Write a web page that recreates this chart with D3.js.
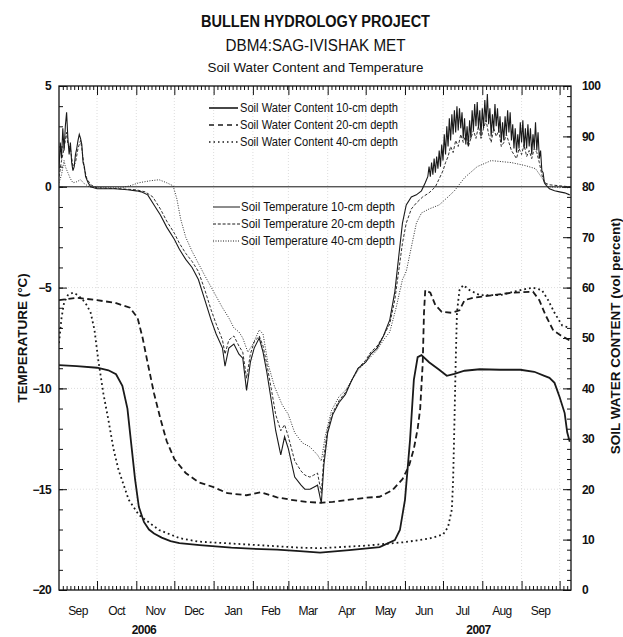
<!DOCTYPE html>
<html>
<head>
<meta charset="utf-8">
<script src="https://cdn.jsdelivr.net/npm/d3@7"></script>
<style>
  body { margin: 0; background: #fff; }
  text { font-family: "Liberation Sans", Arial, sans-serif; fill: #111; }
</style>
</head>
<body>
<svg id="chart" width="623" height="637"></svg>
<script>
// ---- data ----
const monthNames = ["Sep","Oct","Nov","Dec","Jan","Feb","Mar","Apr","May","Jun","Jul","Aug","Sep"];
const yearLabels = [["2006-11-07","2006"],["2007-07-29","2007"]];

// soil water content, vol percent (right axis)
const swc10 = [["2006-09-01",44.6],["2006-09-15",44.4],["2006-10-01",44.1],["2006-10-10",43.6],["2006-10-16",42.8],
  ["2006-10-21",40.5],["2006-10-25",36],["2006-10-28",29],["2006-10-31",22],["2006-11-03",16.5],["2006-11-07",13.5],
  ["2006-11-11",12.0],["2006-11-15",11.2],["2006-11-21",10.4],["2006-11-28",9.7],["2006-12-05",9.3],["2006-12-21",8.9],
  ["2007-01-15",8.4],["2007-01-30",8.2],["2007-02-20",8.0],["2007-03-10",7.7],["2007-03-26",7.4],["2007-04-18",7.9],
  ["2007-05-12",8.5],["2007-05-24",9.9],["2007-05-28",11.9],["2007-06-01",17.9],["2007-06-05",29.8],["2007-06-08",41.7],
  ["2007-06-11",46.2],["2007-06-14",46.6],["2007-06-20",45.2],["2007-06-28",43.7],["2007-07-04",42.5],["2007-07-10",42.9],
  ["2007-07-18",43.5],["2007-07-30",43.8],["2007-08-15",43.7],["2007-08-31",43.7],["2007-09-11",43.3],["2007-09-19",42.5],
  ["2007-09-23",42.1],["2007-09-27",41.1],["2007-10-01",38.3],["2007-10-05",35.1],["2007-10-07",31.3],["2007-10-09",29.4]];

const swc20 = [["2006-09-01",57.5],["2006-09-15",58],["2006-10-01",57.5],["2006-10-15",57],["2006-10-27",56],
  ["2006-11-02",54],["2006-11-06",50],["2006-11-10",45],["2006-11-15",39],["2006-11-20",34],["2006-11-25",29.5],
  ["2006-12-01",26],["2006-12-10",23.2],["2006-12-20",21.4],["2007-01-01",20.4],["2007-01-12",19.2],["2007-01-27",18.8],
  ["2007-02-07",19.4],["2007-02-20",18.4],["2007-03-03",17.9],["2007-03-15",17.5],["2007-03-26",17.3],["2007-04-05",17.5],
  ["2007-05-01",18.3],["2007-05-12",18.5],["2007-05-22",19.8],["2007-05-30",22],["2007-06-04",24.5],["2007-06-08",28],
  ["2007-06-11",32],["2007-06-13",36],["2007-06-15",45],["2007-06-16",55],["2007-06-17",59.5],["2007-06-21",59.0],
  ["2007-06-25",56.5],["2007-06-30",55.2],["2007-07-08",55],["2007-07-14",55.5],["2007-07-18",57.5],["2007-07-25",58.0],
  ["2007-08-10",58.5],["2007-08-25",59.0],["2007-09-10",59.2],["2007-09-15",57.5],["2007-09-20",54.5],["2007-09-26",51.5],
  ["2007-10-02",50.5],["2007-10-09",49.5]];

const swc40 = [["2006-09-01",49],["2006-09-03",54],["2006-09-05",57],["2006-09-08",58.5],["2006-09-12",59],
  ["2006-09-16",58.5],["2006-09-20",57.5],["2006-09-23",56.5],["2006-09-26",55],["2006-09-29",51.6],["2006-10-02",45.6],
  ["2006-10-06",39],["2006-10-10",33.7],["2006-10-14",28],["2006-10-18",23.8],["2006-10-26",17.9],["2006-11-03",14.9],
  ["2006-11-19",11.9],["2006-12-05",10.3],["2006-12-20",9.6],["2007-01-30",9.0],["2007-03-10",8.4],
  ["2007-03-26",8.3],["2007-05-01",8.8],["2007-06-01",9.5],["2007-06-20",10.2],["2007-07-01",11.0],["2007-07-05",12.5],
  ["2007-07-08",16],["2007-07-09",22],["2007-07-10",33],["2007-07-11",45],["2007-07-12",55],["2007-07-14",59.5],
  ["2007-07-17",60.5],["2007-07-22",59.5],["2007-07-30",58.5],["2007-08-15",58.5],["2007-08-31",59.5],["2007-09-10",60],
  ["2007-09-17",59.5],["2007-09-22",57.5],["2007-09-27",55],["2007-10-03",52.5],["2007-10-09",52]];

// soil temperature, deg C (left axis)
const t10 = [["2006-09-01",0.9],["2006-09-02",2.2],["2006-09-03",1.4],["2006-09-04",2.9],["2006-09-05",1.8],
  ["2006-09-06",3.0],["2006-09-07",3.7],["2006-09-08",2.4],["2006-09-09",1.6],["2006-09-10",2.2],["2006-09-11",1.2],
  ["2006-09-12",0.8],["2006-09-13",1.0],["2006-09-14",1.6],["2006-09-15",1.9],["2006-09-16",2.3],["2006-09-17",2.6],
  ["2006-09-18",2.4],["2006-09-19",2.1],["2006-09-20",1.2],["2006-09-21",1.0],["2006-09-22",0.5],["2006-09-24",0.2],
  ["2006-09-26",0.0],["2006-10-01",-0.1],["2006-10-15",-0.1],["2006-10-25",-0.15],["2006-11-01",-0.2],["2006-11-05",-0.25],
  ["2006-11-10",-0.4],["2006-11-15",-0.9],["2006-11-20",-1.4],["2006-11-25",-2.0],["2006-12-01",-2.6],["2006-12-05",-3.1],
  ["2006-12-10",-3.6],["2006-12-15",-4.0],["2006-12-20",-4.6],["2006-12-25",-5.6],["2006-12-30",-6.6],["2007-01-03",-7.3],
  ["2007-01-08",-8.0],["2007-01-10",-8.9],["2007-01-13",-8.0],["2007-01-17",-7.8],["2007-01-21",-8.3],["2007-01-24",-8.5],
  ["2007-01-27",-10.1],["2007-01-30",-8.7],["2007-02-02",-8.0],["2007-02-06",-7.5],["2007-02-09",-8.2],["2007-02-12",-9.2],
  ["2007-02-16",-10.8],["2007-02-19",-12.1],["2007-02-23",-13.3],["2007-02-26",-12.4],["2007-03-01",-13.0],["2007-03-06",-14.4],
  ["2007-03-11",-14.8],["2007-03-14",-15.0],["2007-03-18",-15.0],["2007-03-21",-14.9],["2007-03-24",-14.8],["2007-03-27",-15.7],
  ["2007-03-29",-13.8],["2007-04-01",-12.2],["2007-04-05",-11.3],["2007-04-10",-10.7],["2007-04-15",-10.3],["2007-04-20",-9.6],
  ["2007-04-25",-9.0],["2007-05-01",-8.7],["2007-05-05",-8.3],["2007-05-10",-8.0],["2007-05-15",-7.4],["2007-05-20",-6.6],
  ["2007-05-24",-5.2],["2007-05-27",-3.5],["2007-05-30",-1.8],["2007-06-02",-0.9],["2007-06-06",-0.5],["2007-06-10",-0.4],
  ["2007-06-14",-0.2],["2007-06-17",0.2],["2007-06-19",0.5],
  ["2007-06-20",1.0],["2007-06-21",0.5],["2007-06-22",1.2],["2007-06-23",0.6],["2007-06-24",1.4],["2007-06-25",0.7],
  ["2007-06-26",1.5],["2007-06-27",0.9],["2007-06-28",1.8],["2007-06-29",1.0],["2007-06-30",2.1],["2007-07-01",1.3],
  ["2007-07-02",2.6],["2007-07-03",1.6],["2007-07-04",3.0],["2007-07-05",2.0],["2007-07-06",3.4],["2007-07-07",2.3],
  ["2007-07-08",3.6],["2007-07-09",2.6],["2007-07-10",3.8],["2007-07-11",2.7],["2007-07-12",4.0],["2007-07-13",2.8],
  ["2007-07-14",3.9],["2007-07-15",2.9],["2007-07-16",3.7],["2007-07-17",2.4],["2007-07-18",3.4],["2007-07-19",2.1],
  ["2007-07-20",3.0],["2007-07-21",2.0],["2007-07-22",3.3],["2007-07-23",2.4],["2007-07-24",3.8],["2007-07-25",2.8],
  ["2007-07-26",4.1],["2007-07-27",3.0],["2007-07-28",4.2],["2007-07-29",2.9],["2007-07-30",3.8],["2007-07-31",2.5],
  ["2007-08-01",3.9],["2007-08-02",2.9],["2007-08-03",4.3],["2007-08-04",3.2],["2007-08-05",4.6],["2007-08-06",3.1],
  ["2007-08-07",3.9],["2007-08-08",2.5],["2007-08-09",3.6],["2007-08-10",2.8],["2007-08-11",4.1],["2007-08-12",3.0],
  ["2007-08-13",3.9],["2007-08-14",2.7],["2007-08-15",3.5],["2007-08-16",2.2],["2007-08-17",3.2],["2007-08-18",2.3],
  ["2007-08-19",3.5],["2007-08-20",2.6],["2007-08-21",3.8],["2007-08-22",2.7],["2007-08-23",3.7],["2007-08-24",2.3],
  ["2007-08-25",3.1],["2007-08-26",1.9],["2007-08-27",2.9],["2007-08-28",1.7],["2007-08-29",2.6],["2007-08-30",1.9],
  ["2007-08-31",3.2],["2007-09-01",2.2],["2007-09-02",3.3],["2007-09-03",1.9],["2007-09-04",2.9],["2007-09-05",1.9],
  ["2007-09-06",3.1],["2007-09-07",2.0],["2007-09-08",2.9],["2007-09-09",1.6],["2007-09-10",2.6],["2007-09-11",1.9],
  ["2007-09-12",3.2],["2007-09-13",1.8],["2007-09-14",2.7],["2007-09-15",1.4],["2007-09-16",1.8],["2007-09-17",0.8],
  ["2007-09-18",0.7],["2007-09-19",0.2],["2007-09-20",0.1],["2007-09-23",-0.1],["2007-09-27",-0.2],["2007-10-01",-0.25],
  ["2007-10-05",-0.3],["2007-10-09",-0.4]];

const t20 = [["2006-09-01",0.5],["2006-09-03",1.3],["2006-09-05",1.9],["2006-09-07",2.7],["2006-09-08",2.1],
  ["2006-09-10",1.9],["2006-09-12",1.0],["2006-09-14",1.2],["2006-09-16",1.9],["2006-09-18",2.3],["2006-09-19",1.9],
  ["2006-09-21",0.9],["2006-09-23",0.4],["2006-09-26",0.1],["2006-10-01",-0.05],["2006-10-20",-0.1],["2006-11-01",-0.15],
  ["2006-11-08",-0.25],["2006-11-14",-0.5],["2006-11-20",-1.1],["2006-11-25",-1.7],["2006-12-01",-2.3],["2006-12-05",-2.8],
  ["2006-12-10",-3.3],["2006-12-15",-3.7],["2006-12-20",-4.2],["2006-12-25",-5.1],["2006-12-30",-6.1],["2007-01-03",-6.8],
  ["2007-01-08",-7.6],["2007-01-10",-8.3],["2007-01-13",-7.6],["2007-01-17",-7.4],["2007-01-21",-7.9],["2007-01-24",-8.2],
  ["2007-01-27",-9.5],["2007-01-30",-8.3],["2007-02-02",-7.7],["2007-02-06",-7.4],["2007-02-09",-7.9],["2007-02-12",-8.8],
  ["2007-02-16",-10.2],["2007-02-19",-11.3],["2007-02-23",-12.1],["2007-02-26",-11.8],["2007-03-01",-12.4],["2007-03-06",-13.6],
  ["2007-03-11",-14.1],["2007-03-14",-14.3],["2007-03-18",-14.4],["2007-03-21",-14.3],["2007-03-24",-14.2],["2007-03-27",-15.2],
  ["2007-03-29",-13.4],["2007-04-01",-12.0],["2007-04-05",-11.2],["2007-04-10",-10.6],["2007-04-15",-10.2],["2007-04-20",-9.6],
  ["2007-04-25",-9.0],["2007-05-01",-8.6],["2007-05-05",-8.2],["2007-05-10",-7.9],["2007-05-15",-7.4],["2007-05-20",-6.8],
  ["2007-05-24",-5.6],["2007-05-27",-4.2],["2007-05-30",-2.8],["2007-06-02",-1.8],["2007-06-06",-1.1],["2007-06-10",-0.8],
  ["2007-06-15",-0.5],["2007-06-20",-0.3],["2007-06-25",0.0],["2007-06-28",0.4],["2007-07-01",0.8],["2007-07-03",1.2],
  ["2007-07-05",1.5],["2007-07-07",2.0],["2007-07-09",1.7],["2007-07-11",2.3],["2007-07-13",2.0],["2007-07-15",2.6],
  ["2007-07-17",2.2],["2007-07-19",2.6],["2007-07-21",2.0],["2007-07-23",2.4],["2007-07-25",2.8],["2007-07-27",2.4],
  ["2007-07-29",3.0],["2007-07-31",2.4],["2007-08-02",2.9],["2007-08-04",3.3],["2007-08-06",2.6],["2007-08-08",2.2],
  ["2007-08-10",2.9],["2007-08-12",2.5],["2007-08-14",2.8],["2007-08-16",2.0],["2007-08-18",2.2],["2007-08-20",2.6],
  ["2007-08-22",2.2],["2007-08-24",1.8],["2007-08-26",1.6],["2007-08-28",1.4],["2007-08-30",1.9],["2007-09-01",1.6],
  ["2007-09-03",2.1],["2007-09-05",1.5],["2007-09-07",1.8],["2007-09-09",1.4],["2007-09-11",1.9],["2007-09-13",1.7],
  ["2007-09-15",1.2],["2007-09-17",0.6],["2007-09-19",0.2],["2007-09-23",0.1],["2007-10-01",0.05],["2007-10-09",0.0]];

const t40 = [["2006-09-01",0.2],["2006-09-03",0.6],["2006-09-05",1.3],["2006-09-06",1.0],["2006-09-08",0.7],
  ["2006-09-10",0.4],["2006-09-12",0.2],["2006-09-15",0.25],["2006-09-18",0.35],["2006-09-21",0.15],["2006-09-25",0.0],
  ["2006-10-01",-0.05],["2006-10-20",-0.05],["2006-10-27",0.05],["2006-11-03",0.2],["2006-11-12",0.3],["2006-11-19",0.35],
  ["2006-11-25",0.2],["2006-11-30",0.05],["2006-12-03",-0.6],["2006-12-06",-1.6],["2006-12-10",-2.5],["2006-12-15",-3.2],
  ["2006-12-20",-3.8],["2006-12-25",-4.4],["2007-01-01",-5.2],["2007-01-08",-6.0],["2007-01-13",-6.5],["2007-01-17",-7.0],
  ["2007-01-21",-7.2],["2007-01-24",-7.5],["2007-01-28",-8.2],["2007-02-01",-7.8],["2007-02-06",-7.1],["2007-02-09",-7.3],
  ["2007-02-13",-8.8],["2007-02-18",-9.9],["2007-02-24",-10.8],["2007-03-01",-11.3],["2007-03-06",-12.2],["2007-03-12",-12.7],
  ["2007-03-18",-12.9],["2007-03-24",-13.3],["2007-03-27",-13.6],["2007-03-30",-12.4],["2007-04-04",-11.1],["2007-04-10",-10.4],
  ["2007-04-15",-10.1],["2007-04-20",-9.6],["2007-04-25",-9.1],["2007-05-01",-8.7],["2007-05-10",-8.1],["2007-05-15",-7.6],
  ["2007-05-20",-7.2],["2007-05-25",-6.0],["2007-05-30",-4.6],["2007-06-02",-4.2],["2007-06-06",-3.0],["2007-06-10",-1.8],
  ["2007-06-14",-1.3],["2007-06-20",-1.1],["2007-06-28",-0.9],["2007-07-05",-0.5],["2007-07-10",-0.2],["2007-07-18",0.45],
  ["2007-07-28",1.0],["2007-08-08",1.3],["2007-08-24",1.2],["2007-09-04",1.05],["2007-09-12",0.9],["2007-09-17",0.45],
  ["2007-09-22",0.0],["2007-10-09",-0.05]];

const tempTicks = [-20, -15, -10, -5, 0, 5];
const swcTicks = [0, 10, 20, 30, 40, 50, 60, 70, 80, 90, 100];

// ---- layout ----
const W = 623, H = 637;
const margin = { top: 86, right: 52, bottom: 47, left: 59 };
const w = W - margin.left - margin.right;
const h = H - margin.top - margin.bottom;
const parse = d3.timeParse("%Y-%m-%d");
const start = parse("2006-09-01"), end = parse("2007-10-10");

const x = d3.scaleTime().domain([start, end]).range([0, w]);
const yT = d3.scaleLinear().domain([-20, 5]).range([h, 0]);
const yW = d3.scaleLinear().domain([0, 100]).range([h, 0]);

const svg = d3.select("#chart");

// titles
const titles = [
  ["BULLEN HYDROLOGY PROJECT", 27, 16, "bold", 229],
  ["DBM4:SAG-IVISHAK MET", 51, 16, "normal", 180],
  ["Soil Water Content and Temperature", 72, 13.5, "normal", 216]
];
svg.selectAll("text.title").data(titles).join("text")
  .attr("class", "title")
  .attr("x", W / 2 + 4).attr("y", d => d[1])
  .attr("text-anchor", "middle")
  .attr("font-size", d => d[2]).attr("font-weight", d => d[3])
  .attr("textLength", d => d[4]).attr("lengthAdjust", "spacingAndGlyphs")
  .text(d => d[0]);

const g = svg.append("g").attr("transform", `translate(${margin.left},${margin.top})`);

const months = d3.timeMonth.range(start, end);           // Sep 1 2006 .. Oct 1 2007
const monthBounds = months.slice(1);
const minorDays = d3.timeDay.range(start, end).filter(d => d.getDate() > 1 && d.getDate() < 29 && d.getDate() % 3 === 1);

// faint grid
g.append("g").selectAll("line").data(monthBounds).join("line")
  .attr("x1", d => x(d)).attr("x2", d => x(d)).attr("y1", 0).attr("y2", h)
  .attr("stroke", "#cfcfcf").attr("stroke-width", 0.7).attr("stroke-dasharray", "1,2");
g.append("g").selectAll("line").data([-15, -10, -5]).join("line")
  .attr("x1", 0).attr("x2", w).attr("y1", d => yT(d)).attr("y2", d => yT(d))
  .attr("stroke", "#cfcfcf").attr("stroke-width", 0.7).attr("stroke-dasharray", "1,2");

// zero line
g.append("line").attr("x1", 0).attr("x2", w).attr("y1", yT(0)).attr("y2", yT(0))
  .attr("stroke", "#111").attr("stroke-width", 1);

// axes (inward ticks)
function tickAxis(axis, sel) {
  sel.call(axis);
  sel.select(".domain").remove();
  sel.selectAll("line").attr("stroke", "#111").attr("stroke-width", 1);
}
tickAxis(d3.axisBottom(x).tickValues(minorDays).tickSize(-4).tickSizeOuter(0).tickFormat(""),
  g.append("g").attr("transform", `translate(0,${h})`));
tickAxis(d3.axisBottom(x).tickValues(monthBounds).tickSize(-9).tickSizeOuter(0).tickFormat(""),
  g.append("g").attr("transform", `translate(0,${h})`));
tickAxis(d3.axisTop(x).tickValues(minorDays).tickSize(-4).tickSizeOuter(0).tickFormat(""), g.append("g"));
tickAxis(d3.axisTop(x).tickValues(monthBounds).tickSize(-9).tickSizeOuter(0).tickFormat(""), g.append("g"));

tickAxis(d3.axisLeft(yT).ticks(25).tickSize(-4).tickSizeOuter(0).tickFormat(""), g.append("g"));
const leftMajor = g.append("g");
tickAxis(d3.axisLeft(yT).tickValues(tempTicks).tickSize(-8).tickSizeOuter(0).tickPadding(8).tickFormat(d3.format("d")), leftMajor);
leftMajor.selectAll("text").attr("font-size", 12).attr("font-weight", "bold").attr("letter-spacing", "-0.6")
  .attr("font-family", "Liberation Sans, Arial, sans-serif").attr("fill", "#111");

const rightG = g.append("g").attr("transform", `translate(${w},0)`);
tickAxis(d3.axisRight(yW).ticks(50).tickSize(-4).tickSizeOuter(0).tickFormat(""), rightG);
const rightMajor = g.append("g").attr("transform", `translate(${w},0)`);
tickAxis(d3.axisRight(yW).tickValues(swcTicks).tickSize(-8).tickSizeOuter(0).tickPadding(11).tickFormat(d3.format("d")), rightMajor);
rightMajor.selectAll("text").attr("font-size", 12).attr("font-weight", "bold").attr("letter-spacing", "-0.6")
  .attr("font-family", "Liberation Sans, Arial, sans-serif").attr("fill", "#111");

// frame
g.append("rect").attr("width", w).attr("height", h)
  .attr("fill", "none").attr("stroke", "#111").attr("stroke-width", 1.3);

// month labels
g.selectAll("text.month").data(months.slice(0, 13)).join("text")
  .attr("class", "month")
  .attr("x", d => (x(d) + x(d3.timeMonth.offset(d, 1))) / 2)
  .attr("y", h + 25)
  .attr("text-anchor", "middle").attr("font-size", 12).attr("letter-spacing", "-0.6")
  .text((d, i) => monthNames[i]);
g.selectAll("text.year").data(yearLabels).join("text")
  .attr("class", "year")
  .attr("x", d => x(parse(d[0]))).attr("y", h + 44)
  .attr("text-anchor", "middle").attr("font-size", 12).attr("font-weight", "bold").attr("letter-spacing", "-0.6")
  .text(d => d[1]);

// axis titles
svg.append("text").attr("transform", "translate(27,338) rotate(-90)")
  .attr("text-anchor", "middle").attr("font-size", 13.5).attr("font-weight", "bold")
  .text("TEMPERATURE (°C)");
svg.append("text").attr("transform", "translate(620,336) rotate(-90)")
  .attr("text-anchor", "middle").attr("font-size", 13.5).attr("font-weight", "bold")
  .text("SOIL WATER CONTENT (vol percent)");

// series
g.append("clipPath").attr("id", "plot-area").append("rect").attr("width", w).attr("height", h);
const plot = g.append("g").attr("clip-path", "url(#plot-area)");

const series = [
  { data: swc10, y: yW, width: 1.8, dash: null },
  { data: swc20, y: yW, width: 1.8, dash: "6,3.5" },
  { data: swc40, y: yW, width: 1.8, dash: "1.8,3" },
  { data: t40, y: yT, width: 0.9, dash: "1,1.5" },
  { data: t20, y: yT, width: 0.9, dash: "3,1.8" },
  { data: t10, y: yT, width: 1.1, dash: null }
];
series.forEach(s => {
  const line = d3.line().x(d => x(parse(d[0]))).y(d => s.y(d[1]));
  plot.append("path").datum(s.data)
    .attr("d", line)
    .attr("fill", "none").attr("stroke", "#1a1a1a")
    .attr("stroke-width", s.width)
    .attr("stroke-dasharray", s.dash);
});

// legends
const legend1 = [["Soil Water Content 10-cm depth", null], ["Soil Water Content 20-cm depth", "5,4"], ["Soil Water Content 40-cm depth", "1.5,3"]];
const legend2 = [["Soil Temperature 10-cm depth", null], ["Soil Temperature 20-cm depth", "3,1.8"], ["Soil Temperature 40-cm depth", "1,1.5"]];

function drawLegend(items, lx0, lx1, tx, y0, width, textLen) {
  const lg = svg.append("g");
  const row = lg.selectAll("g").data(items).join("g")
    .attr("transform", (d, i) => `translate(0,${y0 + i * 17})`);
  row.append("line").attr("x1", lx0).attr("x2", lx1).attr("y1", 0).attr("y2", 0)
    .attr("stroke", "#1a1a1a").attr("stroke-width", width).attr("stroke-dasharray", d => d[1]);
  row.append("text").attr("x", tx).attr("y", 4.3).attr("font-size", 12)
    .attr("textLength", textLen).attr("lengthAdjust", "spacingAndGlyphs")
    .text(d => d[0]);
}
drawLegend(legend1, 209, 238, 240, 108, 1.6, 158);
drawLegend(legend2, 213, 240, 241, 207, 1, 154);
</script>
</body>
</html>
